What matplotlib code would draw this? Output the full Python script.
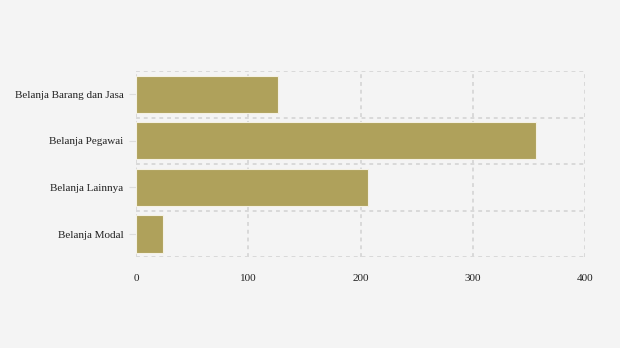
import matplotlib.pyplot as plt

# Data
categories = ['Belanja Barang dan Jasa', 'Belanja Pegawai', 'Belanja Lainnya', 'Belanja Modal']
values = [126.5, 356.3, 207.0, 24.3]
xticks = [0, 100, 200, 300, 400]

bg = '#f4f4f4'
grid_c = '#d9d9d9'

fig = plt.figure(figsize=(6.2, 3.48), dpi=100, facecolor=bg)
ax = fig.add_axes([136 / 620, 1 - 257.3 / 348, 449 / 620, 186.3 / 348])
ax.set_facecolor(bg)

pos = list(range(len(categories)))
ax.barh(pos, values, height=0.8, color='#afa15b', edgecolor='#f4f1e4', linewidth=0.8, zorder=3)

ax.set_xlim(0, 400)
ax.set_ylim(len(categories) - 0.5, -0.5)
ax.set_xticks(xticks)
ax.set_xticklabels([str(v) for v in xticks])
ax.set_yticks(pos)
ax.set_yticklabels(categories)

# dashed grid: vertical at x ticks, horizontal at category boundaries
for x in xticks:
    ax.axvline(x, color=grid_c, ls=(0, (2, 2)), lw=1.4, zorder=1)
for y in [-0.5, 0.5, 1.5, 2.5, 3.5]:
    ax.axhline(y, color=grid_c, ls=(0, (2, 2)), lw=1.4, zorder=1)

for s in ax.spines.values():
    s.set_visible(False)

ax.tick_params(axis='x', length=0, pad=12, labelsize=8, labelcolor='#222222')
ax.tick_params(axis='y', length=5, color='#dddddd', pad=4, labelsize=8, labelcolor='#222222')
for lab in ax.get_xticklabels() + ax.get_yticklabels():
    lab.set_fontfamily('Liberation Serif')

fig.savefig('out.png', dpi=100, facecolor=bg)
